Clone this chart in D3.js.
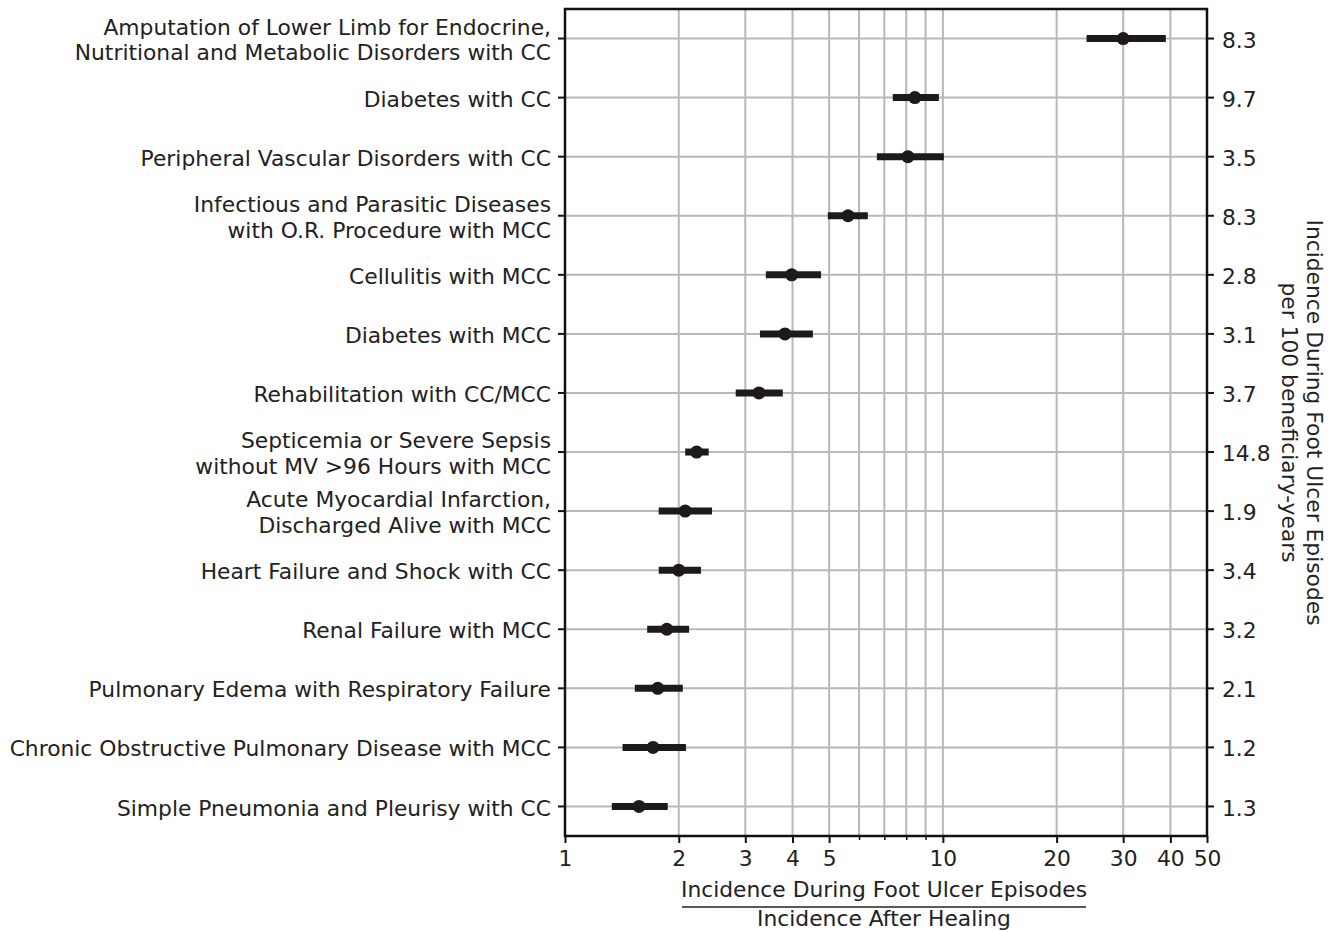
<!DOCTYPE html>
<html>
<head>
<meta charset="utf-8">
<script src="https://cdn.jsdelivr.net/npm/d3@7/dist/d3.min.js"></script>
<style>
  html, body { margin: 0; padding: 0; background: #fff; }
  svg text { font-family: "DejaVu Sans", sans-serif; fill: #222; }
</style>
</head>
<body>
<svg id="chart" width="1344" height="932"></svg>
<script>
// ---- Data ----
const categories = [
  ["Amputation of Lower Limb for Endocrine,", "Nutritional and Metabolic Disorders with CC"],
  ["Diabetes with CC"],
  ["Peripheral Vascular Disorders with CC"],
  ["Infectious and Parasitic Diseases", "with O.R. Procedure with MCC"],
  ["Cellulitis with MCC"],
  ["Diabetes with MCC"],
  ["Rehabilitation with CC/MCC"],
  ["Septicemia or Severe Sepsis", "without MV >96 Hours with MCC"],
  ["Acute Myocardial Infarction,", "Discharged Alive with MCC"],
  ["Heart Failure and Shock with CC"],
  ["Renal Failure with MCC"],
  ["Pulmonary Edema with Respiratory Failure"],
  ["Chronic Obstructive Pulmonary Disease with MCC"],
  ["Simple Pneumonia and Pleurisy with CC"]
];
const ratio = [30.0, 8.43, 8.08, 5.61, 3.98, 3.82, 3.26, 2.23, 2.08, 2.00, 1.86, 1.76, 1.71, 1.57];
const lower = [24.0, 7.37, 6.69, 4.96, 3.40, 3.28, 2.83, 2.08, 1.77, 1.77, 1.65, 1.53, 1.42, 1.33];
const upper = [38.9, 9.76, 10.06, 6.33, 4.76, 4.53, 3.77, 2.40, 2.45, 2.29, 2.13, 2.05, 2.09, 1.87];
const incidence = ["8.3", "9.7", "3.5", "8.3", "2.8", "3.1", "3.7", "14.8", "1.9", "3.4", "3.2", "2.1", "1.2", "1.3"];
const majorTicks = [1, 2, 3, 4, 5, 10, 20, 30, 40, 50];
const minorTicks = [6, 7, 8, 9];
const gridTicks = [2, 3, 4, 5, 6, 7, 8, 9, 10, 20, 30, 40];
const xTitleTop = "Incidence During Foot Ulcer Episodes";
const xTitleBottom = "Incidence After Healing";
const yRightTitle = ["Incidence During Foot Ulcer Episodes", "per 100 beneficiary-years"];

// ---- Layout ----
const svg = d3.select("#chart");
const pL = 565, pR = 1207, pT = 9, pB = 836;
const fs = 21.8;

const x = d3.scaleLog().domain([1, 50]).range([pL, pR]);
const y = d3.scalePoint().domain(d3.range(categories.length)).range([pT, pB]).padding(0.5);
const idx = d3.range(categories.length);

// gridlines
const grid = svg.append("g");
grid.selectAll("line.v").data(gridTicks).join("line").attr("class", "v")
  .attr("x1", d => x(d)).attr("x2", d => x(d))
  .attr("y1", pT).attr("y2", pB)
  .attr("stroke", "#b8b8b8").attr("stroke-width", 2);
grid.selectAll("line.h").data(idx).join("line").attr("class", "h")
  .attr("x1", pL).attr("x2", pR)
  .attr("y1", d => y(d)).attr("y2", d => y(d))
  .attr("stroke", "#b8b8b8").attr("stroke-width", 2);

// error bars
const marks = svg.append("g");
marks.selectAll("line.err").data(idx).join("line").attr("class", "err")
  .attr("x1", i => x(lower[i])).attr("x2", i => x(upper[i]))
  .attr("y1", i => y(i)).attr("y2", i => y(i))
  .attr("stroke", "#1e1a1b").attr("stroke-width", 7);
marks.selectAll("circle").data(idx).join("circle")
  .attr("cx", i => x(ratio[i])).attr("cy", i => y(i)).attr("r", 6.5)
  .attr("fill", "#1e1a1b");

// spines
svg.append("rect").attr("x", pL).attr("y", pT)
  .attr("width", pR - pL).attr("height", pB - pT)
  .attr("fill", "none").attr("stroke", "#111").attr("stroke-width", 2.5);

// bottom axis
const xAxis = d3.axisBottom(x).tickValues(majorTicks).tickFormat(d3.format("d")).tickSize(7).tickPadding(8);
const gx = svg.append("g").attr("transform", `translate(0,${pB})`).call(xAxis);
gx.select(".domain").remove();
gx.selectAll(".tick line").attr("stroke", "#111").attr("stroke-width", 2);
gx.selectAll(".tick text").attr("font-size", fs).attr("font-family", "DejaVu Sans").attr("fill", "#222");
const xMinor = d3.axisBottom(x).tickValues(minorTicks).tickFormat("").tickSize(4);
const gxm = svg.append("g").attr("transform", `translate(0,${pB})`).call(xMinor);
gxm.select(".domain").remove();
gxm.selectAll(".tick line").attr("stroke", "#111").attr("stroke-width", 1.5);

// left axis ticks and labels
const gl = svg.append("g");
gl.selectAll("line").data(idx).join("line")
  .attr("x1", pL - 7).attr("x2", pL).attr("y1", i => y(i)).attr("y2", i => y(i))
  .attr("stroke", "#111").attr("stroke-width", 2);
const lineH = 25.5;
gl.selectAll("text").data(idx).join("text")
  .attr("text-anchor", "end").attr("font-size", fs)
  .each(function(i) {
    const lines = categories[i];
    const n = lines.length;
    const t = d3.select(this);
    lines.forEach((ln, k) => {
      t.append("tspan").attr("x", pL - 14)
        .attr("y", y(i) + 1 + (k - (n - 1) / 2) * lineH)
        .attr("dy", "0.37em").text(ln);
    });
  });

// right axis ticks and labels
const gr = svg.append("g");
gr.selectAll("line").data(idx).join("line")
  .attr("x1", pR).attr("x2", pR + 7).attr("y1", i => y(i)).attr("y2", i => y(i))
  .attr("stroke", "#111").attr("stroke-width", 2);
gr.selectAll("text").data(idx).join("text")
  .attr("x", pR + 15).attr("y", i => y(i) + 1).attr("dy", "0.37em")
  .attr("font-size", fs).text(i => incidence[i]);

// right title (rotated)
const rt = svg.append("text").attr("transform", `translate(1315,${(pT + pB) / 2}) rotate(90)`)
  .attr("text-anchor", "middle").attr("font-size", fs);
yRightTitle.forEach((ln, k) => {
  rt.append("tspan").attr("x", 0).attr("y", k * 25).attr("dy", "0.35em").text(ln);
});

// bottom title as fraction
const cx = (682 + 1086) / 2;
svg.append("text").attr("x", cx).attr("y", 889).attr("dy", "0.35em")
  .attr("text-anchor", "middle").attr("font-size", fs).text(xTitleTop);
svg.append("line").attr("x1", 682).attr("x2", 1086).attr("y1", 907).attr("y2", 907)
  .attr("stroke", "#222").attr("stroke-width", 1.5);
svg.append("text").attr("x", cx).attr("y", 918).attr("dy", "0.35em")
  .attr("text-anchor", "middle").attr("font-size", fs).text(xTitleBottom);
</script>
</body>
</html>
